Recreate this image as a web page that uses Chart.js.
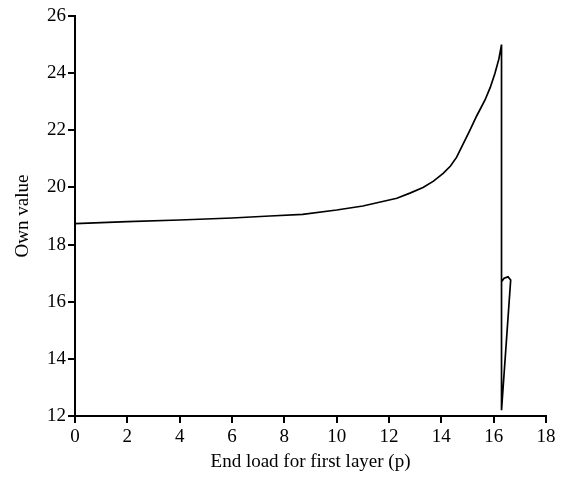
<!DOCTYPE html>
<html>
<head>
<meta charset="utf-8">
<script src="https://cdn.jsdelivr.net/npm/chart.js@4"></script>
<style>
  html, body { margin: 0; padding: 0; background: #fff; }
  #wrap { width: 565px; height: 477px; }
</style>
</head>
<body>
<div id="wrap"><canvas id="chart" width="565" height="477"></canvas></div>
<script>
// curve, in drawing order
const loadX = [0, 2, 4, 6, 7.45, 8.7, 10, 11, 12.3, 12.8, 13.3, 13.7, 14.07, 14.35, 14.58, 15.09, 15.35, 15.67, 15.87, 16.05, 16.2, 16.3, 16.3, 16.65, 16.55, 16.4, 16.3];
const ownValue = [18.73, 18.8, 18.86, 18.93, 19.0, 19.06, 19.21, 19.35, 19.62, 19.8, 20.0, 20.22, 20.49, 20.75, 21.05, 22.0, 22.5, 23.06, 23.5, 24.0, 24.5, 25.0, 12.2, 16.76, 16.87, 16.82, 16.7];

const xTicks = [0, 2, 4, 6, 8, 10, 12, 14, 16, 18];
const yTicks = [12, 14, 16, 18, 20, 22, 24, 26];

const xTitle = 'End load for first layer (p)';
const yTitle = 'Own value';

const font = { family: '"Liberation Serif", "Times New Roman", serif', size: 19 };

const axisGrid = {
    display: true,
    drawOnChartArea: false,
    drawTicks: true,
    tickLength: 7,
    color: '#000',
    lineWidth: 2
};

new Chart(document.getElementById('chart').getContext('2d'), {
    type: 'line',
    data: {
        datasets: [{
            data: loadX.map((x, i) => ({ x, y: ownValue[i] })),
            borderColor: '#000',
            borderWidth: 1.7,
            pointRadius: 0,
            tension: 0,
            fill: false
        }]
    },
    options: {
        responsive: false,
        animation: false,
        layout: { padding: { top: 16, right: 19, left: 8, bottom: 0 } },
        plugins: { legend: { display: false }, tooltip: { enabled: false } },
        scales: {
            x: {
                type: 'linear',
                min: 0,
                max: 18,
                afterBuildTicks: axis => { axis.ticks = xTicks.map(v => ({ value: v })); },
                afterFit: axis => { axis.height = 61; },
                grid: axisGrid,
                border: { color: '#000', width: 2 },
                ticks: { color: '#000', font, padding: 3, maxRotation: 0 },
                title: { display: true, text: xTitle, color: '#000', font, padding: { top: 1 } }
            },
            y: {
                type: 'linear',
                min: 12,
                max: 26,
                afterBuildTicks: axis => { axis.ticks = yTicks.map(v => ({ value: v })); },
                afterFit: axis => { axis.width = 67; },
                grid: axisGrid,
                border: { color: '#000', width: 2 },
                ticks: { color: '#000', font, padding: 2 },
                title: { display: true, text: yTitle, color: '#000', font, padding: { bottom: 4 } }
            }
        }
    }
});
</script>
</body>
</html>
